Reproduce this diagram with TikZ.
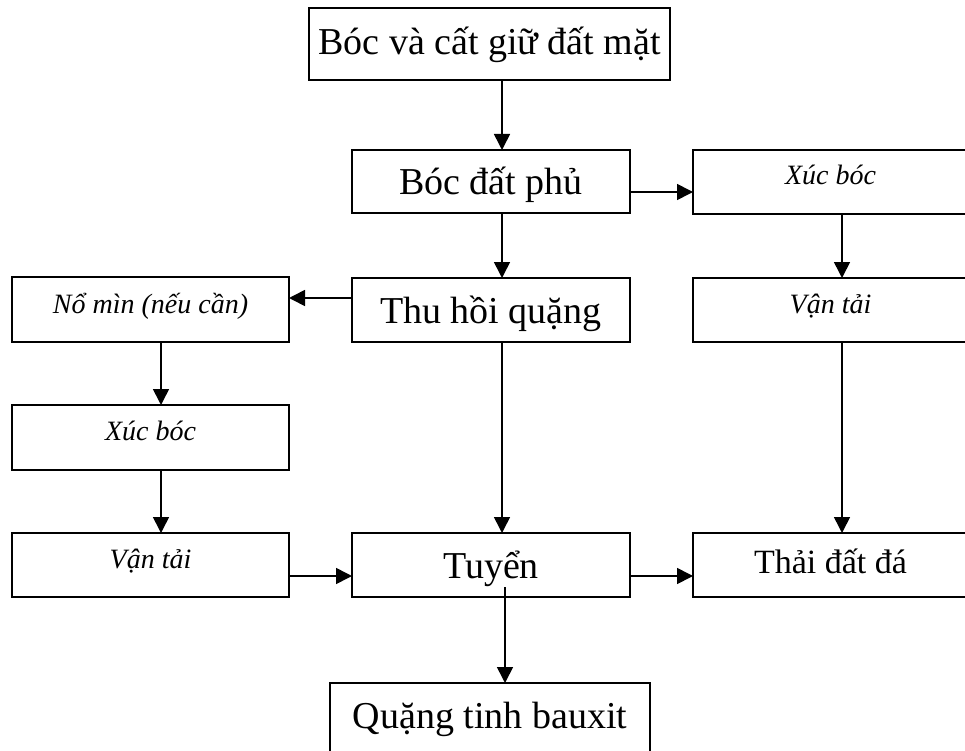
\documentclass[tikz,border=0pt]{standalone}
\usepackage{fontspec}
\setmainfont{Liberation Serif}
\usetikzlibrary{arrows.meta}
\begin{document}
\begin{tikzpicture}[x=1pt,y=-1pt,
  box/.style={draw, line width=1.8pt, rectangle, inner sep=0pt, outer sep=0pt, align=center, text depth=0pt},
  big/.style={font=\fontsize{38}{40}\selectfont},
  small/.style={font=\fontsize{28}{30}\selectfont\itshape},
  arr/.style={line width=1.6pt, -{Triangle[length=16pt,width=16pt]}}]
\useasboundingbox (0,0) rectangle (965,751);
\clip (0,0) rectangle (965,751);
% columns and rows
\coordinate (cm) at (502,0);
\coordinate (cq) at (505,0);
\coordinate (cl) at (161,0);
\coordinate (cr) at (842,0);
\coordinate (r1) at (0,192);
\coordinate (r2) at (0,298);
\coordinate (r3) at (0,576);
% boxes
\node[box, big, minimum width=361pt, minimum height=72pt, text height=22pt] (top) at (489.5,44) {Bóc và cất giữ đất mặt};
\node[box, big, minimum width=278pt, minimum height=63pt, text height=27pt] (bdp) at (491,181.5) {Bóc đất phủ};
\node[box, small, minimum width=275pt, minimum height=64pt, text height=6pt] (xbr) at (830.5,182) {Xúc bóc};
\node[box, big, minimum width=278pt, minimum height=64pt, text height=26pt] (thq) at (491,310) {Thu hồi quặng};
\node[box, small, minimum width=277pt, minimum height=65pt, text height=7pt] (nm) at (150.5,309.5) {Nổ mìn (nếu cần)};
\node[box, small, minimum width=275pt, minimum height=64pt, text height=6pt] (vtr) at (830.5,310) {Vận tải};
\node[box, small, minimum width=277pt, minimum height=65pt, text height=5pt] (xbl) at (150.5,437.5) {Xúc bóc};
\node[box, small, minimum width=277pt, minimum height=64pt, text height=6pt] (vtl) at (150.5,565) {Vận tải};
\node[box, big, minimum width=278pt, minimum height=64pt, text height=26pt] (tuyen) at (491,565) {Tuyển};
\node[box, font=\fontsize{34}{36}\selectfont, minimum width=275pt, minimum height=64pt, text height=16pt] (thai) at (830.5,565) {Thải đất đá};
\node[box, big, minimum width=320pt, minimum height=72pt, text height=18pt] (qt) at (490,719) {Quặng tinh bauxit};
% connectors
\draw[arr] (cm |- top.south) -- (cm |- bdp.north);
\draw[arr] (bdp.east |- r1) -- (xbr.west |- r1);
\draw[arr] (cr |- xbr.south) -- (cr |- vtr.north);
\draw[arr] (cm |- bdp.south) -- (cm |- thq.north);
\draw[arr] (thq.west |- r2) -- (nm.east |- r2);
\draw[arr] (cl |- nm.south) -- (cl |- xbl.north);
\draw[arr] (cl |- xbl.south) -- (cl |- vtl.north);
\draw[arr] (vtl.east |- r3) -- (tuyen.west |- r3);
\draw[arr] (cm |- thq.south) -- (cm |- tuyen.north);
\draw[arr] (cr |- vtr.south) -- (cr |- thai.north);
\draw[arr] (tuyen.east |- r3) -- (thai.west |- r3);
\draw[arr] ([yshift=10pt]cq |- tuyen.south) -- (cq |- qt.north);
\end{tikzpicture}
\end{document}
